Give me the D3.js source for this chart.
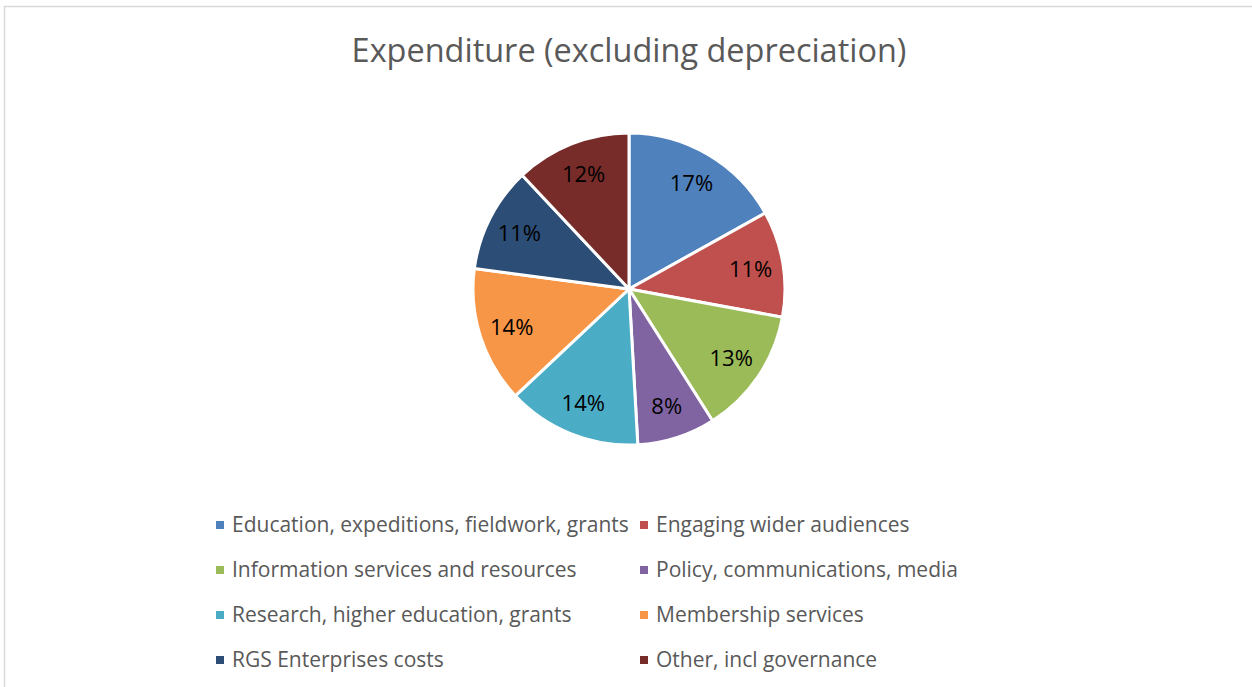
<!DOCTYPE html>
<html>
<head>
<meta charset="utf-8">
<script src="https://cdn.jsdelivr.net/npm/d3@7"></script>
<style>
  body { margin: 0; background: #fff; }
  text { font-family: "Open Sans", "Noto Sans", sans-serif; }
</style>
</head>
<body>
<svg id="chart" width="1252" height="687"></svg>
<script>
const categories = [
  "Education, expeditions, fieldwork, grants",
  "Engaging wider audiences",
  "Information services and resources",
  "Policy, communications, media",
  "Research, higher education, grants",
  "Membership services",
  "RGS Enterprises costs",
  "Other, incl governance"
];
const shares = [16.9, 11.0, 13.1, 8.1, 13.9, 14.1, 10.9, 12.0];
const colours = ["#4F81BD", "#C0504D", "#9BBB59", "#8064A2", "#4BACC6", "#F79646", "#2C4D75", "#772C2A"];
const title = "Expenditure (excluding depreciation)";

const width = 1252, height = 687,
    cx = 629, cy = 289,
    radius = 156;

const svg = d3.select("#chart");

// chart area border
svg.append("rect")
    .attr("x", 4.5).attr("y", 6.5)
    .attr("width", width + 10).attr("height", height + 10)
    .attr("fill", "#fff")
    .attr("stroke", "#d9d9d9")
    .attr("stroke-width", 1.5);

// shrink/grow a text node so it spans a given width
let fitWidth = (sel, target) => {
  let size = parseFloat(sel.attr("font-size"));
  let w = sel.node().getComputedTextLength();
  sel.attr("font-size", size * target / w);
  return size * target / w;
}

let t = svg.append("text")
    .attr("x", cx).attr("y", 62)
    .attr("text-anchor", "middle")
    .attr("fill", "#595959")
    .attr("font-size", 28)
    .text(title);
fitWidth(t, 555);

const pie = d3.pie().sort(null).value(d => d);
const arc = d3.arc().innerRadius(0).outerRadius(radius);
const labelArc = d3.arc().innerRadius(radius * 0.79).outerRadius(radius * 0.79);
const color = d3.scaleOrdinal().domain(categories).range(colours);

const arcs = pie(shares);
const total = d3.sum(shares);

let g = svg.append("g").attr("transform", `translate(${cx},${cy})`);

g.selectAll("path.slice")
  .data(arcs)
  .enter().append("path")
    .attr("class", "slice")
    .attr("d", arc)
    .attr("fill", (d, i) => color(categories[i]))
    .attr("stroke", "#fff")
    .attr("stroke-width", 3)
    .attr("stroke-linejoin", "round");

let labels = g.selectAll("text.pct")
  .data(arcs)
  .enter().append("text")
    .attr("class", "pct")
    .attr("transform", d => `translate(${labelArc.centroid(d)})`)
    .attr("text-anchor", "middle")
    .attr("dy", "0.36em")
    .attr("fill", "#000")
    .attr("font-size", 22)
    .text(d => Math.round(d.data / total * 100) + "%");

// legend, two columns
const colX = [216, 640], rowY0 = 532, rowStep = 45;
let legend = svg.append("g");
let items = legend.selectAll("g.item")
  .data(categories)
  .enter().append("g")
    .attr("class", "item")
    .attr("transform", (d, i) => `translate(${colX[i % 2]},${rowY0 + Math.floor(i / 2) * rowStep})`);

items.append("rect")
    .attr("x", 0).attr("y", -11)
    .attr("width", 8).attr("height", 8)
    .attr("fill", d => color(d));

items.append("text")
    .attr("x", 16)
    .attr("fill", "#595959")
    .attr("font-size", 18)
    .text(d => d);

let legSize = fitWidth(items.filter((d, i) => i === 0).select("text"), 397);
items.selectAll("text").attr("font-size", legSize);
</script>
</body>
</html>
